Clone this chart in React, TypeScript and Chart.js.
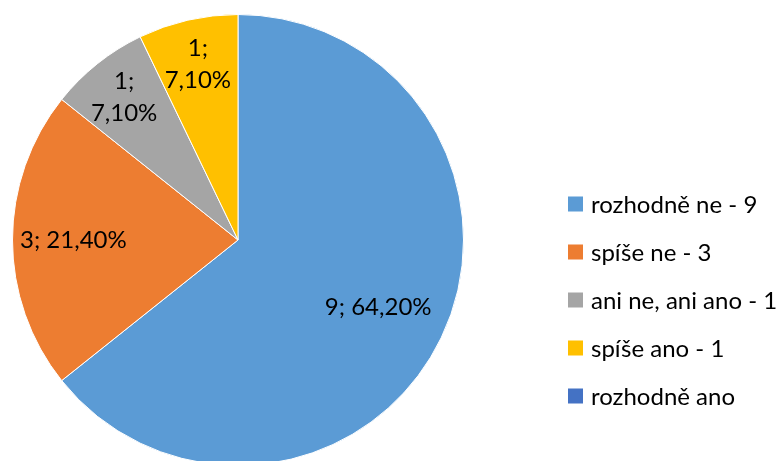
import { useEffect, useRef } from "react";
import { Chart, registerables } from "chart.js";

Chart.register(...registerables);

const categories = ["rozhodně ne", "spíše ne", "ani ne, ani ano", "spíše ano", "rozhodně ano"];
const counts = [9, 3, 1, 1, 0];
const percentLabels = ["64,20%", "21,40%", "7,10%", "7,10%", ""];
const legendLabels = ["rozhodně ne - 9", "spíše ne - 3", "ani ne, ani ano - 1", "spíše ano - 1", "rozhodně ano"];
const colors = ["#5B9BD5", "#ED7D31", "#A5A5A5", "#FFC000", "#4472C4"];

// label placement (style): radial fraction and whether the label is split on two lines
const labelRadial = [0.69, 0.73, 0.81, 0.8, 0];
const labelTwoLines = [false, false, true, true, false];

const FONT = "Lato, 'Open Sans', sans-serif";
const FONT_SIZE = 24;

const labelPlugin = {
  id: "sliceLabels",
  afterDatasetsDraw(chart: any) {
    const ctx = chart.ctx;
    const meta = chart.getDatasetMeta(0);
    ctx.save();
    ctx.font = `${FONT_SIZE}px ${FONT}`;
    ctx.fillStyle = "#000000";
    ctx.textAlign = "center";
    ctx.textBaseline = "middle";
    meta.data.forEach((arc: any, i: number) => {
      if (!counts[i]) return;
      const p = arc.getProps(["x", "y", "startAngle", "endAngle", "outerRadius"], true);
      const mid = (p.startAngle + p.endAngle) / 2;
      const d = p.outerRadius * labelRadial[i];
      const cx = p.x + Math.cos(mid) * d;
      const cy = p.y + Math.sin(mid) * d;
      const lines = labelTwoLines[i]
        ? [`${counts[i]};`, percentLabels[i]]
        : [`${counts[i]}; ${percentLabels[i]}`];
      const lh = 32;
      lines.forEach((t, k) => {
        ctx.fillText(t, cx, cy + (k - (lines.length - 1) / 2) * lh);
      });
    });
    ctx.restore();
  },
};

const legendPlugin = {
  id: "sideLegend",
  afterDraw(chart: any) {
    const ctx = chart.ctx;
    ctx.save();
    ctx.font = `${FONT_SIZE}px ${FONT}`;
    ctx.textAlign = "left";
    ctx.textBaseline = "middle";
    const boxX = 568;
    const box = 15;
    const textX = 591;
    const y0 = 204;
    const step = 48;
    legendLabels.forEach((t, i) => {
      const cy = y0 + i * step;
      ctx.fillStyle = colors[i];
      ctx.fillRect(boxX, cy - box / 2, box, box);
      ctx.fillStyle = "#000000";
      ctx.fillText(t, textX, cy + 1);
    });
    ctx.restore();
  },
};

export default function App() {
  const ref = useRef<HTMLCanvasElement | null>(null);
  useEffect(() => {
    if (!ref.current) return;
    const chart = new Chart(ref.current, {
      type: "pie",
      data: {
        labels: categories,
        datasets: [
          {
            data: counts,
            backgroundColor: colors,
            borderColor: "#ffffff",
            borderWidth: 1,
          },
        ],
      },
      options: {
        responsive: false,
        animation: false,
        layout: { padding: { left: 12, right: 320, top: 14, bottom: 14 } },
        plugins: {
          legend: { display: false },
          tooltip: { enabled: false },
        },
      },
      plugins: [labelPlugin, legendPlugin],
    });
    return () => chart.destroy();
  }, []);
  return (
    <div
      style={{
        position: "fixed",
        left: 0,
        top: 0,
        width: 784,
        height: 461,
        overflow: "hidden",
        background: "#ffffff",
      }}
    >
      <canvas ref={ref} width={784} height={480} style={{ display: "block" }} />
    </div>
  );
}
